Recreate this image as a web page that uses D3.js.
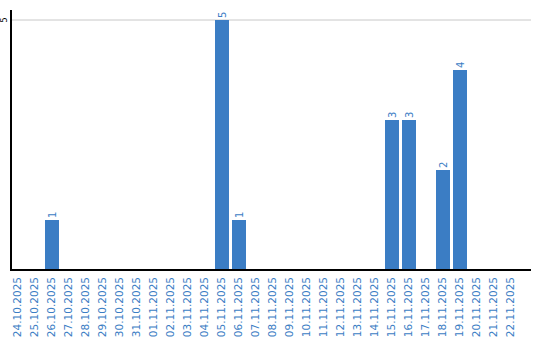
<!DOCTYPE html>
<html><head><meta charset="utf-8">
<script src="https://cdn.jsdelivr.net/npm/d3@7"></script>
<style>body{margin:0;background:#fff}svg{display:block}</style>
</head><body>
<svg id="c" width="540" height="340"></svg>
<script>
const categories = ["24.10.2025","25.10.2025","26.10.2025","27.10.2025","28.10.2025","29.10.2025","30.10.2025","31.10.2025","01.11.2025","02.11.2025","03.11.2025","04.11.2025","05.11.2025","06.11.2025","07.11.2025","08.11.2025","09.11.2025","10.11.2025","11.11.2025","12.11.2025","13.11.2025","14.11.2025","15.11.2025","16.11.2025","17.11.2025","18.11.2025","19.11.2025","20.11.2025","21.11.2025","22.11.2025"];
const values = [0,0,1,0,0,0,0,0,0,0,0,0,5,1,0,0,0,0,0,0,0,0,3,3,0,2,4,0,0,0];
const yTicks = [5];

const svg = d3.select("#c");
const blue = "#3b7dc4";
const x = d3.scaleBand().domain(categories).range([11, 521]).padding(0);
const bw = x.step() - 3;
const y = d3.scaleLinear().domain([0, 5.2]).range([270, 10]);

// gridlines
svg.append("g").selectAll("line").data(yTicks).join("line")
  .attr("x1", 11).attr("x2", 531).attr("y1", d => y(d)).attr("y2", d => y(d))
  .attr("stroke", "#c8c8c8").attr("stroke-width", 1);

// bars
const data = categories.map((c, i) => ({c, v: values[i]})).filter(d => d.v > 0);
svg.append("g").selectAll("rect").data(data).join("rect")
  .attr("x", d => x(d.c)).attr("width", bw)
  .attr("y", d => y(d.v)).attr("height", d => y(0) - y(d.v))
  .attr("fill", blue);

// value labels
svg.append("g").selectAll("text").data(data).join("text")
  .attr("transform", d => `translate(${x(d.c) + bw / 2 + 3.5},${y(d.v) - 2}) rotate(-90)`)
  .attr("font-family", "DejaVu Sans, sans-serif").attr("font-size", 10)
  .attr("fill", blue).text(d => d.v);

// y axis
const yAxis = d3.axisLeft(y).tickValues(yTicks).tickSize(0).tickFormat(d3.format("d"));
const gy = svg.append("g").attr("transform", "translate(11,0)").call(yAxis);
gy.select(".domain").remove();
gy.selectAll("text").attr("x", 0).attr("dy", null)
  .attr("transform", d => `translate(-4,${y(d)}) rotate(-90)`)
  .attr("y", 0).attr("text-anchor", "middle")
  .attr("font-family", "DejaVu Sans, sans-serif").attr("font-size", 8).attr("fill", "#000");
gy.selectAll(".tick").attr("transform", null);
svg.append("line").attr("x1", 11).attr("x2", 11).attr("y1", 10).attr("y2", 271)
  .attr("stroke", "#000").attr("stroke-width", 2);

// x axis
const xAxis = d3.axisBottom(x).tickSize(0);
const gx = svg.append("g").attr("transform", "translate(0,270)").call(xAxis);
gx.select(".domain").remove();
gx.selectAll("text")
  .attr("transform", "rotate(-90)")
  .attr("x", -7).attr("y", -0.5).attr("dy", "0.35em")
  .attr("text-anchor", "end")
  .attr("font-family", "DejaVu Sans, sans-serif").attr("font-size", 10.5).attr("fill", blue);
gx.selectAll(".tick").attr("transform", d => `translate(${x(d) + bw / 2},0)`);
svg.append("line").attr("x1", 10).attr("x2", 531).attr("y1", 270).attr("y2", 270)
  .attr("stroke", "#000").attr("stroke-width", 2);
</script>
</body></html>
